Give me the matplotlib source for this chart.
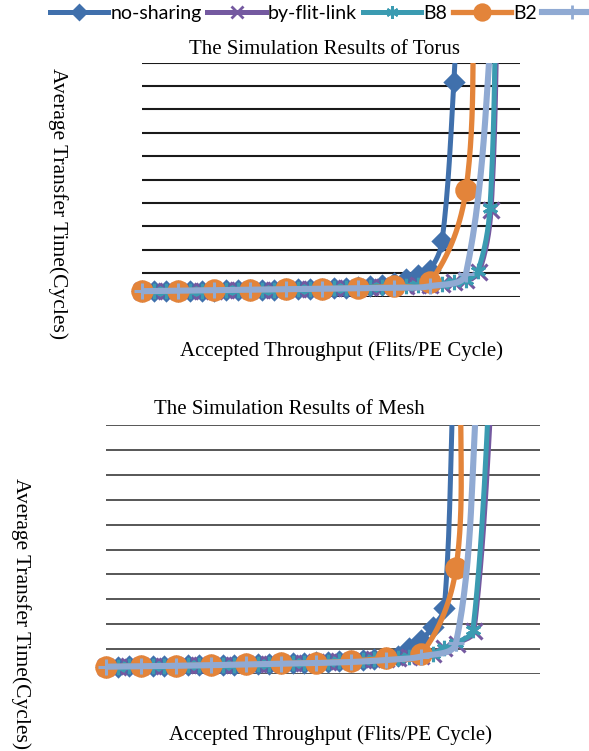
import numpy as np
import matplotlib
matplotlib.use('Agg')
import matplotlib.pyplot as plt
from matplotlib.lines import Line2D

# --- Torus ---
torus_ns_x = [0.0100, 0.0167, 0.0233, 0.0300, 0.0367, 0.0433, 0.0500, 0.0567, 0.0633, 0.0700,
              0.0767, 0.0833, 0.0900, 0.0967, 0.1033, 0.1100, 0.1167, 0.1233, 0.1300, 0.1367,
              0.1433, 0.1500, 0.1567, 0.1633, 0.1700, 0.1767, 0.1833, 0.1861]
torus_ns_y = [11.8, 12.0, 12.2, 12.4, 12.6, 12.8, 13.2, 13.5, 13.9, 14.1,
              14.5, 15.0, 15.4, 15.8, 16.5, 17.1, 17.9, 18.8, 20.1, 21.8,
              24.6, 29.9, 38.5, 47.0, 57.7, 118.6, 459.4, 720]

torus_b8_x = [0.0100, 0.0167, 0.0233, 0.0300, 0.0367, 0.0433, 0.0500, 0.0567, 0.0633, 0.0700,
              0.0767, 0.0833, 0.0900, 0.0967, 0.1033, 0.1100, 0.1167, 0.1233, 0.1300, 0.1367,
              0.1433, 0.1500, 0.1567, 0.1633, 0.1700, 0.1767, 0.1833, 0.1900, 0.1967, 0.2033, 0.2072]
torus_b8_y = [11.8, 12.0, 12.2, 12.4, 12.6, 12.8, 13.2, 13.5, 13.9, 14.1,
              14.5, 15.0, 15.4, 15.8, 16.5, 17.1, 17.9, 18.8, 19.5, 20.3,
              21.2, 22.2, 23.3, 24.6, 26.0, 27.8, 30.5, 35.0, 55.6, 190.0, 720]

torus_fl_x = [0.0100, 0.0167, 0.0233, 0.0300, 0.0367, 0.0433, 0.0500, 0.0567, 0.0633, 0.0700,
              0.0767, 0.0833, 0.0900, 0.0967, 0.1033, 0.1100, 0.1167, 0.1233, 0.1300, 0.1367,
              0.1433, 0.1500, 0.1567, 0.1633, 0.1700, 0.1767, 0.1833, 0.1900, 0.1972, 0.2039, 0.2080]
torus_fl_y = [11.8, 12.0, 12.2, 12.4, 12.6, 12.8, 13.2, 13.5, 13.9, 14.1,
              14.5, 15.0, 15.4, 15.8, 16.5, 17.1, 17.9, 18.8, 19.5, 20.3,
              21.2, 22.2, 23.3, 24.6, 26.0, 27.8, 30.5, 35.0, 52.0, 185.0, 720]

torus_b2_x = [0.01, 0.03, 0.05, 0.07, 0.09, 0.11, 0.13, 0.15, 0.17, 0.19, 0.1945]
torus_b2_y = [11.8, 12.8, 13.9, 15.0, 16.0, 17.1, 18.6, 22.4, 31.0, 228.6, 720]

torus_lb_x = [0.01, 0.03, 0.05, 0.07, 0.09, 0.11, 0.13, 0.15, 0.17, 0.19, 0.2067]
torus_lb_y = [11.8, 12.8, 13.9, 15.0, 16.0, 17.1, 18.2, 19.2, 22.4, 49.1, 699]

# --- Mesh ---
mesh_ns_x = [0.0100, 0.0167, 0.0233, 0.0300, 0.0367, 0.0433, 0.0500, 0.0567, 0.0633, 0.0700,
             0.0767, 0.0833, 0.0900, 0.0967, 0.1033, 0.1100, 0.1167, 0.1233, 0.1300, 0.1367,
             0.1433, 0.1500, 0.1567, 0.1633, 0.1700, 0.1767, 0.1833, 0.1900, 0.1967, 0.2033, 0.2085]
mesh_ns_y = [14.7, 15.0, 15.3, 15.6, 15.9, 16.3, 16.7, 17.1, 17.5, 17.9,
             18.4, 18.9, 19.4, 19.9, 20.5, 21.1, 21.8, 22.5, 23.3, 24.2,
             25.2, 26.4, 27.8, 29.6, 32.0, 35.5, 52.0, 68.0, 94.0, 132.5, 590]

mesh_b8_x = [0.0100, 0.0167, 0.0233, 0.0300, 0.0367, 0.0433, 0.0500, 0.0567, 0.0633, 0.0700,
             0.0767, 0.0833, 0.0900, 0.0967, 0.1033, 0.1100, 0.1167, 0.1233, 0.1300, 0.1367,
             0.1433, 0.1500, 0.1567, 0.1633, 0.1700, 0.1767, 0.1833, 0.1900, 0.1967, 0.2033,
             0.2100, 0.2197, 0.2317]
mesh_b8_y = [14.7, 15.0, 15.3, 15.6, 15.9, 16.3, 16.7, 17.1, 17.5, 17.9,
             18.4, 18.9, 19.4, 19.9, 20.5, 21.1, 21.8, 22.5, 23.3, 24.2,
             25.2, 26.4, 27.8, 29.6, 30.8, 32.5, 34.5, 37.0, 41.0, 52.0,
             62.0, 88.4, 751]

mesh_fl_x = [0.0100, 0.0167, 0.0233, 0.0300, 0.0367, 0.0433, 0.0500, 0.0567, 0.0633, 0.0700,
             0.0767, 0.0833, 0.0900, 0.0967, 0.1033, 0.1100, 0.1167, 0.1233, 0.1300, 0.1367,
             0.1433, 0.1500, 0.1567, 0.1633, 0.1700, 0.1767, 0.1833, 0.1900, 0.1967, 0.2033,
             0.2103, 0.2203, 0.2334]
mesh_fl_y = [14.7, 15.0, 15.3, 15.6, 15.9, 16.3, 16.7, 17.1, 17.5, 17.9,
             18.4, 18.9, 19.4, 19.9, 20.5, 21.1, 21.8, 22.5, 23.3, 24.2,
             25.2, 26.4, 27.8, 29.6, 30.8, 32.5, 34.5, 37.0, 41.0, 52.0,
             61.0, 86.0, 751]

mesh_b2_x = [0.01, 0.03, 0.05, 0.07, 0.09, 0.11, 0.13, 0.15, 0.17, 0.19, 0.21, 0.2128]
mesh_b2_y = [14.7, 16.1, 16.7, 18.1, 19.5, 21.5, 22.7, 26.1, 31.5, 39.4, 212.2, 590]

mesh_lb_x = [0.01, 0.03, 0.05, 0.07, 0.09, 0.11, 0.13, 0.15, 0.17, 0.19, 0.21, 0.2226]
mesh_lb_y = [14.7, 15.5, 16.5, 17.7, 19.1, 20.5, 22.1, 24.1, 28.1, 35.1, 62.2, 590]

labels = ['no-sharing', 'by-flit-link', 'B8', 'B2', '']
colors = ['#4070AC', '#7459A0', '#3B9BB1', '#E3843A', '#90AAD3']
markers = ['D', 'x', (6, 2, 0), 'o', '+']
msizes = [9, 11, 11, 14, 12]
lwidths = [3.6, 3.6, 3.6, 3.8, 4.4]

YMAX = 500


def smooth(x, y, sx, sy, n=16):
    # Bezier curve through the points; handle length limited by the segment length,
    # computed in pixel units so steep jumps do not overshoot
    p = np.column_stack([np.asarray(x) * sx, np.asarray(y) * sy]).astype(float)
    q = np.vstack([p[0], p, p[-1]])
    t = np.linspace(0, 1, n + 1)[1:, None]
    out = [p[0]]

    def direction(a, b):
        d = b - a
        L = np.hypot(*d)
        return d / L if L > 0 else d

    for i in range(1, len(q) - 2):
        p0, p1, p2, p3 = q[i - 1], q[i], q[i + 1], q[i + 2]
        L = np.hypot(*(p2 - p1)) / 3
        c1 = p1 + direction(p0, p2) * L
        c2 = p2 - direction(p1, p3) * L
        seg = ((1 - t) ** 3) * p1 + 3 * ((1 - t) ** 2) * t * c1 + 3 * (1 - t) * t ** 2 * c2 + t ** 3 * p2
        out.extend(seg)
    out = np.array(out)
    return out[:, 0] / sx, out[:, 1] / sy


def draw_panel(ax, series, xmax, gridcolor, gridlw):
    ax.set_xlim(0.01, xmax)
    ax.set_ylim(0, YMAX)
    ax.set_yticks(range(0, YMAX + 1, 50))
    ax.set_xticks([])
    ax.yaxis.grid(True, color=gridcolor, lw=gridlw)
    ax.set_axisbelow(True)
    ax.tick_params(left=False, bottom=False, labelleft=False, labelbottom=False)
    for s in ax.spines.values():
        s.set_visible(False)
    bb = ax.get_position()
    sx = bb.width * 589 / (xmax - 0.01)
    sy = bb.height * 751 / YMAX
    for i, (x, y) in enumerate(series):
        cx, cy = smooth(x, y, sx, sy)
        ax.plot(cx, cy, color=colors[i], lw=lwidths[i], solid_capstyle='round', zorder=2 + i)
        xm = [a for a, b in zip(x, y) if b <= YMAX]
        ym = [b for b in y if b <= YMAX]
        ax.plot(xm, ym, ls='none', marker=markers[i], ms=msizes[i], color=colors[i],
                mew=2.2, clip_on=False, zorder=2 + i)


fig = plt.figure(figsize=(5.89, 7.51), dpi=100)

ax1 = fig.add_axes([142 / 589, 1 - 296.7 / 751, 378 / 589, 234 / 751])
draw_panel(ax1, [(torus_ns_x, torus_ns_y), (torus_fl_x, torus_fl_y), (torus_b8_x, torus_b8_y),
                 (torus_b2_x, torus_b2_y), (torus_lb_x, torus_lb_y)], 0.22, '#1a1a1a', 1.5)

ax2 = fig.add_axes([106 / 589, 1 - 674 / 751, 434 / 589, 249 / 751])
draw_panel(ax2, [(mesh_ns_x, mesh_ns_y), (mesh_fl_x, mesh_fl_y), (mesh_b8_x, mesh_b8_y),
                 (mesh_b2_x, mesh_b2_y), (mesh_lb_x, mesh_lb_y)], 0.258, '#3a3a3a', 1.2)

serif = 'Liberation Serif'
fig.text(324.5 / 589, 1 - 49 / 751, 'The Simulation Results of Torus', family=serif, fontsize=15,
         ha='center', va='center')
fig.text(289.5 / 589, 1 - 410 / 751, 'The Simulation Results of Mesh', family=serif, fontsize=15,
         ha='center', va='center')
fig.text(341.5 / 589, 1 - 351 / 751, 'Accepted Throughput (Flits/PE Cycle)', family=serif,
         fontsize=15, ha='center', va='center')
fig.text(330.5 / 589, 1 - 735 / 751, 'Accepted Throughput (Flits/PE Cycle)', family=serif,
         fontsize=15, ha='center', va='center')
fig.text(58 / 589, 1 - 204 / 751, 'Average Transfer Time(Cycles)', family=serif, fontsize=15.5,
         rotation=-90, ha='center', va='center')
fig.text(21 / 589, 1 - 614 / 751, 'Average Transfer Time(Cycles)', family=serif, fontsize=15.5,
         rotation=-90, ha='center', va='center')

handles = [Line2D([], [], color=colors[i], lw=lwidths[i], marker=markers[i],
                  ms=msizes[i] * 0.8, mew=2) for i in range(5)]
fig.legend(handles, labels, loc='upper left', bbox_to_anchor=(50 / 589, 1 - 5 / 751), ncol=5,
           frameon=False, prop={'family': 'Lato', 'size': 14}, handlelength=3.0,
           handletextpad=0.1, columnspacing=0.3, borderpad=0, borderaxespad=0)

fig.savefig('out.png', dpi=100)
